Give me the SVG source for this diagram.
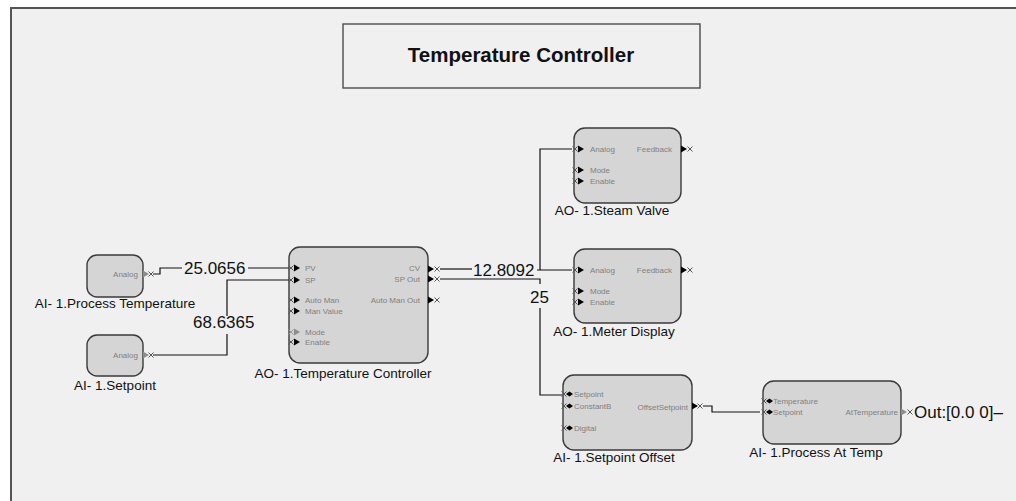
<svg xmlns="http://www.w3.org/2000/svg" xmlns:xlink="http://www.w3.org/1999/xlink" width="1016" height="501" viewBox="0 0 1016 501">
<style>
.node{fill:#d5d5d5;stroke:#3a3a3a;stroke-width:1.4}
.lbl{font-family:"Liberation Sans",Arial,sans-serif;font-size:13.5px;fill:#111;text-anchor:middle}
.port{font-family:"Liberation Sans",Arial,sans-serif;font-size:8px;fill:#808080}
.pr{text-anchor:end}
.val{font-family:"Liberation Sans",Arial,sans-serif;font-size:17px;fill:#111}
.wire{fill:none;stroke:#111;stroke-width:1.2}
.title{font-family:"Liberation Sans",Arial,sans-serif;font-size:20.5px;font-weight:bold;fill:#111;text-anchor:middle}
</style>
<defs>
<path id="xm" d="M-2.5,-2.5L2.5,2.5M-2.5,2.5L2.5,-2.5" stroke="#555" stroke-width="1" fill="none"/>
<path id="xmg" d="M-2.5,-2.5L2.5,2.5M-2.5,2.5L2.5,-2.5" stroke="#999" stroke-width="1" fill="none"/>
<path id="tri" d="M0,-3.5L6,0L0,3.5Z" fill="#000"/>
<path id="trig" d="M0,-3.5L6,0L0,3.5Z" fill="#8c8c8c"/>
<path id="dia" d="M0,0L3.5,-2.5L7,0L3.5,2.5Z" fill="#000"/>
</defs>
<rect x="0" y="0" width="1016" height="501" fill="#ffffff"/>
<rect x="11" y="8" width="1010" height="500" fill="#f0f0f0"/>
<path d="M11,501V8H1016" fill="none" stroke="#555" stroke-width="2"/>

<g id="title">
<rect x="343" y="24" width="357" height="64" fill="#f0f0f0" stroke="#555" stroke-width="1.5"/>
<text class="title" x="521" y="62">Temperature Controller</text>
</g>

<g id="connectors">
<polyline class="wire" points="153,274 160,274 160,268 182,268"/>
<polyline class="wire" points="248,268 289,268"/>
<text class="val" x="184" y="274">25.0656</text>
<polyline class="wire" points="153,355 227,355 227,334"/>
<polyline class="wire" points="227,316 227,280 289,280"/>
<text class="val" x="193" y="328">68.6365</text>
<polyline class="wire" points="440,269 472,269"/>
<text class="val" x="473" y="276">12.8092</text>
<polyline class="wire" points="537,270 572,270"/>
<polyline class="wire" points="540,270 540,149 572,149"/>
<polyline class="wire" points="440,279 540,279 540,284"/>
<text class="val" x="530" y="303">25</text>
<polyline class="wire" points="540,308 540,395 562,395"/>
<polyline class="wire" points="703,406 712,406 712,412 760,412"/>
<text class="val" x="914" y="418">Out:[0.0 0]–</text>
</g>

<g id="n-process-temperature">
<rect class="node" x="87" y="255" width="56" height="42" rx="10"/>
<text class="port pr" x="138" y="277">Analog</text>
<use xlink:href="#trig" x="143" y="274"/>
<use xlink:href="#xm" x="151" y="274"/>
<text class="lbl" x="115" y="308">AI- 1.Process Temperature</text>
</g>

<g id="n-setpoint">
<rect class="node" x="87" y="335" width="56" height="41" rx="10"/>
<text class="port pr" x="138" y="358">Analog</text>
<use xlink:href="#trig" x="143" y="355"/>
<use xlink:href="#xm" x="151" y="355"/>
<text class="lbl" x="115" y="390">AI- 1.Setpoint</text>
</g>

<g id="n-temperature-controller">
<rect class="node" x="289" y="247" width="139" height="116" rx="11"/>
<g class="port">
<text x="305" y="271">PV</text>
<text x="305" y="283">SP</text>
<text x="305" y="303">Auto  Man</text>
<text x="305" y="314">Man  Value</text>
<text x="305" y="335">Mode</text>
<text x="305" y="345">Enable</text>
<text class="pr" x="420" y="271">CV</text>
<text class="pr" x="420" y="282">SP  Out</text>
<text class="pr" x="420" y="303">Auto  Man  Out</text>
</g>
<use xlink:href="#xm" x="291" y="268"/><use xlink:href="#tri" x="294" y="268"/>
<use xlink:href="#xm" x="291" y="280"/><use xlink:href="#tri" x="294" y="280"/>
<use xlink:href="#xm" x="291" y="300"/><use xlink:href="#tri" x="294" y="300"/>
<use xlink:href="#xm" x="291" y="311"/><use xlink:href="#tri" x="294" y="311"/>
<use xlink:href="#xmg" x="291" y="332"/><use xlink:href="#trig" x="294" y="332"/>
<use xlink:href="#xm" x="291" y="342"/><use xlink:href="#tri" x="294" y="342"/>
<use xlink:href="#tri" x="428" y="269"/><use xlink:href="#xm" x="437" y="269"/>
<use xlink:href="#tri" x="428" y="279"/><use xlink:href="#xm" x="437" y="279"/>
<use xlink:href="#tri" x="428" y="300"/><use xlink:href="#xm" x="437" y="300"/>
<text class="lbl" x="343" y="378">AO- 1.Temperature Controller</text>
</g>

<g id="n-steam-valve">
<rect class="node" x="574" y="128" width="107" height="75" rx="11"/>
<g class="port">
<text x="590" y="152">Analog</text>
<text x="590" y="173">Mode</text>
<text x="590" y="184">Enable</text>
<text class="pr" x="672" y="152">Feedback</text>
</g>
<use xlink:href="#xm" x="575" y="149"/><use xlink:href="#tri" x="578" y="149"/>
<use xlink:href="#xm" x="575" y="170"/><use xlink:href="#tri" x="578" y="170"/>
<use xlink:href="#xm" x="575" y="181"/><use xlink:href="#tri" x="578" y="181"/>
<use xlink:href="#tri" x="681" y="149"/><use xlink:href="#xm" x="690" y="149"/>
<text class="lbl" x="612" y="215">AO- 1.Steam Valve</text>
</g>

<g id="n-meter-display">
<rect class="node" x="574" y="249" width="107" height="74" rx="11"/>
<g class="port">
<text x="590" y="273">Analog</text>
<text x="590" y="294">Mode</text>
<text x="590" y="305">Enable</text>
<text class="pr" x="672" y="273">Feedback</text>
</g>
<use xlink:href="#xm" x="575" y="270"/><use xlink:href="#tri" x="578" y="270"/>
<use xlink:href="#xm" x="575" y="291"/><use xlink:href="#tri" x="578" y="291"/>
<use xlink:href="#xm" x="575" y="302"/><use xlink:href="#tri" x="578" y="302"/>
<use xlink:href="#tri" x="681" y="270"/><use xlink:href="#xm" x="690" y="270"/>
<text class="lbl" x="614" y="336">AO- 1.Meter Display</text>
</g>

<g id="n-setpoint-offset">
<rect class="node" x="563" y="375" width="129" height="75" rx="11"/>
<g class="port">
<text x="574" y="397">Setpoint</text>
<text x="574" y="409">ConstantB</text>
<text x="574" y="431">Digital</text>
<text class="pr" x="688" y="410">OffsetSetpoint</text>
</g>
<use xlink:href="#xm" x="564" y="394"/><use xlink:href="#dia" x="566" y="394"/>
<use xlink:href="#xm" x="564" y="406"/><use xlink:href="#dia" x="566" y="406"/>
<use xlink:href="#xm" x="564" y="428"/><use xlink:href="#dia" x="566" y="428"/>
<use xlink:href="#tri" x="692" y="406"/><use xlink:href="#xm" x="700" y="406"/>
<text class="lbl" x="614" y="462">AI- 1.Setpoint Offset</text>
</g>

<g id="n-process-at-temp">
<rect class="node" x="763" y="381" width="138" height="63" rx="11"/>
<g class="port">
<text x="773" y="404">Temperature</text>
<text x="773" y="415">Setpoint</text>
<text class="pr" x="898" y="415">AtTemperature</text>
</g>
<use xlink:href="#xm" x="764" y="401"/><use xlink:href="#dia" x="766" y="401"/>
<use xlink:href="#xm" x="764" y="412"/><use xlink:href="#dia" x="766" y="412"/>
<use xlink:href="#trig" x="901" y="412"/><use xlink:href="#xm" x="910" y="412"/>
<text class="lbl" x="816" y="457">AI- 1.Process At Temp</text>
</g>
</svg>
